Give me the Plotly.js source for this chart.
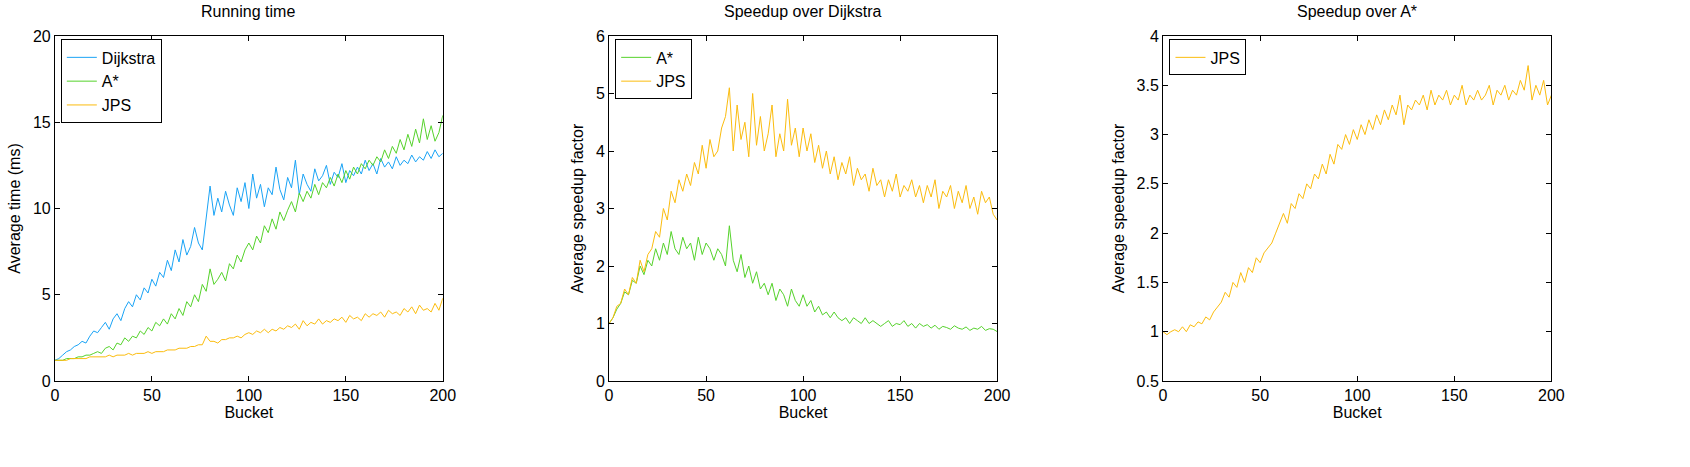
<!DOCTYPE html>
<html>
<head>
<script src="https://cdn.plot.ly/plotly-3.0.1.min.js"></script>
<style>body{margin:0}#chart{width:1690px;height:467px}</style>
</head>
<body>
<div id="chart"></div>
<script>
// buckets 0,2,...,200
const buckets = [];
for (let b = 0; b <= 200; b += 2) buckets.push(b);

const dijkstraTime = [1.2,1.3,1.5,1.7,1.8,2.0,2.1,2.3,2.2,2.6,2.9,
2.8,3.1,3.4,3.0,3.6,3.9,3.5,4.2,4.6,4.3,
5.0,4.7,5.4,5.1,5.9,5.5,6.3,6.0,7.0,6.4,
7.6,6.9,8.2,7.3,7.8,8.9,8.0,7.6,9.4,11.3,
9.6,10.6,9.8,11.0,10.2,9.6,11.2,10.4,11.5,10.0,
12.0,10.6,11.4,10.1,11.2,10.8,12.4,11.1,10.5,11.8,
11.2,12.8,10.8,12.0,11.4,11.0,12.3,11.6,11.9,12.5,
11.4,12.1,11.8,12.6,11.5,12.2,11.9,12.4,12.0,12.8,
12.2,12.6,12.0,12.9,12.4,12.7,12.3,13.0,12.5,12.8,
12.6,13.1,12.7,13.0,12.8,13.3,12.9,13.4,13.0,13.2];

const astarTime = [1.2,1.2,1.2,1.3,1.3,1.3,1.4,1.4,1.5,1.5,1.6,
1.7,1.6,1.9,2.0,1.8,2.2,2.1,2.5,2.3,2.6,
2.5,2.9,2.7,3.1,2.9,3.4,3.2,3.6,3.3,3.9,
3.6,4.2,3.8,4.6,4.3,5.0,4.6,5.6,5.2,6.5,
5.6,5.9,6.3,5.8,6.8,6.5,7.3,6.9,7.6,8.0,
7.6,8.4,8.0,9.0,8.6,9.4,8.8,9.8,9.3,9.9,
10.4,9.8,10.9,10.4,11.0,10.6,11.4,10.8,11.5,11.2,
11.8,11.3,12.0,11.5,12.2,11.7,12.4,12.0,12.6,12.3,
12.8,12.5,13.0,12.7,13.4,12.9,13.6,13.2,14.0,13.4,
14.3,13.6,14.6,13.8,15.2,14.0,14.8,13.9,14.4,15.4];

const jpsTime = [1.2,1.2,1.2,1.2,1.3,1.3,1.3,1.3,1.3,1.4,1.4,
1.4,1.4,1.4,1.5,1.4,1.5,1.5,1.5,1.6,1.5,
1.6,1.6,1.6,1.7,1.6,1.7,1.7,1.7,1.8,1.8,
1.8,1.9,1.9,1.9,2.0,2.0,2.1,2.1,2.6,2.3,
2.3,2.2,2.4,2.4,2.5,2.5,2.6,2.5,2.7,2.8,
2.7,2.9,2.8,3.0,2.8,3.0,2.9,3.1,3.0,3.2,
3.1,3.3,3.0,3.5,3.2,3.4,3.3,3.6,3.3,3.5,
3.4,3.6,3.5,3.7,3.4,3.8,3.6,3.7,3.5,3.9,
3.7,3.9,3.8,4.0,3.7,4.1,3.9,4.0,3.8,4.2,
4.0,4.3,3.9,4.4,4.1,4.2,4.0,4.5,4.1,4.8];

const astarSpeedup = [1.0,1.1,1.25,1.35,1.55,1.5,1.75,1.7,2.0,1.85,2.1,
2.0,2.3,2.1,2.4,2.2,2.6,2.3,2.2,2.5,2.3,
2.4,2.1,2.5,2.2,2.4,2.3,2.1,2.3,2.2,2.0,
2.7,2.1,1.9,2.2,1.8,2.0,1.7,1.9,1.6,1.7,
1.5,1.7,1.4,1.6,1.5,1.3,1.6,1.4,1.3,1.5,
1.3,1.4,1.2,1.3,1.15,1.2,1.1,1.2,1.1,1.05,
1.1,1.0,1.1,1.05,1.0,1.1,1.0,1.05,1.0,0.95,
1.0,1.05,0.95,1.0,0.98,1.05,0.95,1.0,0.92,1.0,
0.95,0.98,0.92,0.97,0.9,0.95,0.93,0.9,0.96,0.92,
0.9,0.94,0.88,0.92,0.9,0.95,0.88,0.91,0.9,0.86];

const jpsSpeedup = [1.0,1.1,1.3,1.35,1.6,1.5,1.8,1.7,2.1,1.9,2.2,
2.3,2.6,2.5,3.0,2.8,3.3,3.1,3.5,3.3,3.6,
3.4,3.8,3.6,4.1,3.7,4.2,3.9,4.0,4.4,4.6,
5.1,4.0,4.8,4.2,4.5,3.9,5.0,4.1,4.6,4.0,
4.3,4.8,3.9,4.3,4.0,4.9,4.1,4.4,3.9,4.4,
4.0,4.3,3.8,4.1,3.7,4.0,3.6,3.9,3.5,3.8,
3.6,3.9,3.4,3.7,3.5,3.6,3.3,3.7,3.4,3.5,
3.2,3.5,3.3,3.6,3.2,3.4,3.3,3.5,3.2,3.4,
3.1,3.4,3.2,3.5,3.0,3.3,3.2,3.4,3.0,3.3,
3.1,3.4,3.0,3.2,2.9,3.3,3.1,3.2,2.9,2.8];

const jpsOverAstar = [1.0,0.97,1.0,1.02,1.0,1.05,1.0,1.07,1.05,1.1,1.08,
1.15,1.12,1.2,1.25,1.3,1.4,1.35,1.5,1.45,1.6,
1.5,1.65,1.6,1.75,1.7,1.8,1.85,1.9,2.0,2.1,
2.2,2.1,2.3,2.25,2.4,2.35,2.5,2.45,2.6,2.55,
2.7,2.6,2.8,2.7,2.9,2.85,3.0,2.9,3.05,2.95,
3.1,3.0,3.15,3.05,3.2,3.1,3.25,3.15,3.3,3.2,
3.4,3.1,3.3,3.25,3.35,3.3,3.4,3.25,3.45,3.3,
3.4,3.35,3.45,3.3,3.4,3.35,3.5,3.3,3.4,3.35,
3.45,3.35,3.4,3.5,3.3,3.45,3.4,3.5,3.35,3.45,
3.4,3.55,3.45,3.7,3.35,3.5,3.4,3.55,3.3,3.4];

const cBlue = "#1aa3f5", cGreen = "#55d22b", cYellow = "#fbbc0e";

function line(y, name, color, xa, ya, leg) {
  return {x: buckets, y: y, name: name, mode: "lines", line: {color: color, width: 1},
    xaxis: xa, yaxis: ya, legend: leg};
}

const data = [
  line(dijkstraTime, "Dijkstra", cBlue, "x", "y", "legend"),
  line(astarTime, "A*", cGreen, "x", "y", "legend"),
  line(jpsTime, "JPS", cYellow, "x", "y", "legend"),
  line(astarSpeedup, "A*", cGreen, "x2", "y2", "legend2"),
  line(jpsSpeedup, "JPS", cYellow, "x2", "y2", "legend2"),
  line(jpsOverAstar, "JPS", cYellow, "x3", "y3", "legend3")
];

const axBase = {showgrid: false, zeroline: false, showline: true, mirror: "ticks",
  linecolor: "#000", linewidth: 1, ticks: "inside", ticklen: 5, tickcolor: "#000",
  tickfont: {size: 16}};
function xax(dom, anchor) {
  return Object.assign({}, axBase, {domain: dom, anchor: anchor, range: [0, 200], dtick: 50,
    title: {text: "Bucket", font: {size: 16}, standoff: 2}});
}
function yax(anchor, range, dtick, title) {
  return Object.assign({}, axBase, {domain: [0, 1], anchor: anchor, range: range, dtick: dtick,
    title: {text: title, font: {size: 16}, standoff: 8}});
}
function leg(x) {
  return {x: x, y: 0.99, xanchor: "left", yanchor: "top", bordercolor: "#000", borderwidth: 1,
    bgcolor: "#fff", font: {size: 16}, tracegroupgap: 0};
}
function ttl(text, x) {
  return {text: text, x: x, y: 1.04, xref: "paper", yref: "paper", xanchor: "center",
    yanchor: "bottom", showarrow: false, font: {size: 16}};
}

const layout = {
  width: 1690, height: 467,
  margin: {l: 0, r: 0, t: 36, b: 86},
  font: {family: "Liberation Sans, Arial, sans-serif", color: "#000"},
  paper_bgcolor: "#fff", plot_bgcolor: "#fff",
  xaxis: xax([0.0325, 0.262], "y"),
  yaxis: yax("x", [0, 20], 5, "Average time (ms)"),
  xaxis2: xax([0.3604, 0.590], "y2"),
  yaxis2: yax("x2", [0, 6], 1, "Average speedup factor"),
  xaxis3: xax([0.6882, 0.918], "y3"),
  yaxis3: yax("x3", [0.5, 4], 0.5, "Average speedup factor"),
  legend: leg(0.036), legend2: leg(0.364), legend3: leg(0.692),
  annotations: [ttl("Running time", 0.147), ttl("Speedup over Dijkstra", 0.475), ttl("Speedup over A*", 0.803)]
};

Plotly.newPlot("chart", data, layout, {displayModeBar: false});
</script>
</body>
</html>
